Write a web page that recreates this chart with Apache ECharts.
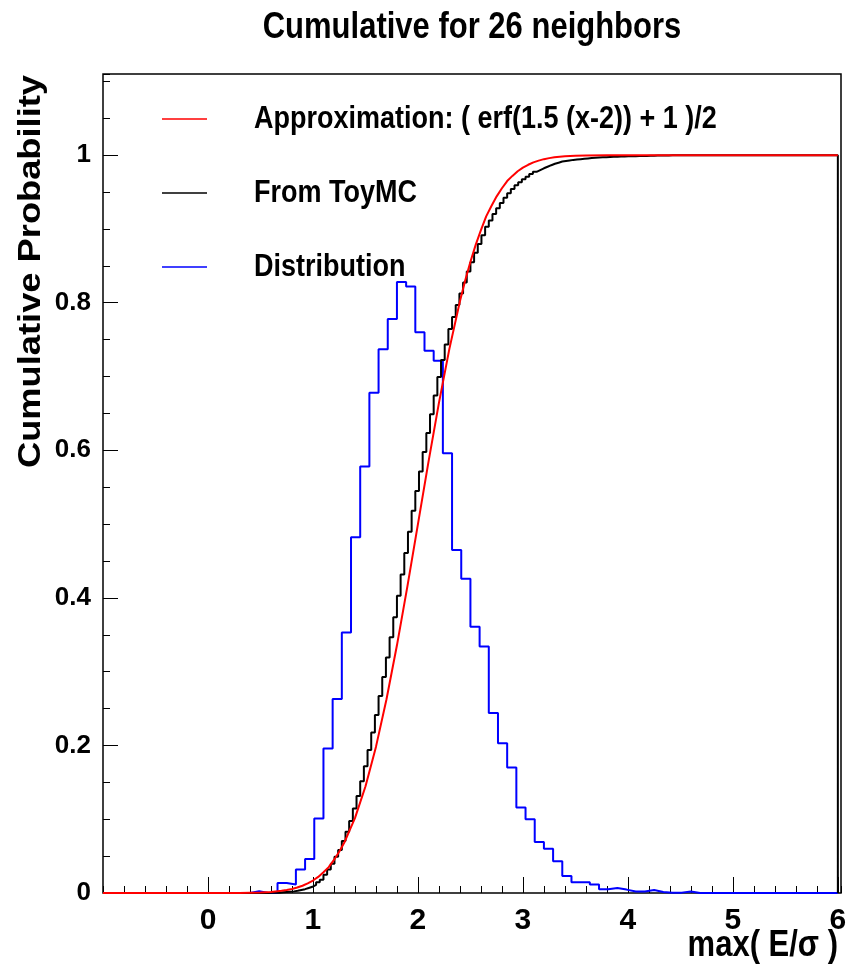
<!DOCTYPE html>
<html><head><meta charset="utf-8">
<script src="https://cdn.jsdelivr.net/npm/echarts@6/dist/echarts.min.js"></script>
<style>html,body{margin:0;padding:0;background:#fff}#c{width:852px;height:970px}</style>
</head><body><div id="c"></div>
<script>
// ---------- data ----------
const titleText = 'Cumulative for 26 neighbors';
const xTitle = 'max( E/σ )';
const yTitle = 'Cumulative Probability';
const legendNames = ['Approximation: ( erf(1.5 (x-2)) + 1 )/2', 'From ToyMC', 'Distribution'];

// Distribution histogram: 80 bins over [-1, 6]
const distLow = -1, distWidth = 0.0875;
const distribution = [
  0,0,0,0,0,0,0,0,0,0,0,0,0,0,0,0,
  0.0023,0,0,0.0136,0.0114,0.032,0.046,0.101,0.196,0.263,0.353,0.482,0.578,0.678,0.737,0.778,
  0.828,0.822,0.760,0.735,0.7215,0.596,0.465,0.426,0.361,0.334,0.244,0.203,0.170,0.116,0.100,0.069,
  0.060,0.043,0.023,0.0145,0.0145,0.0114,0.0052,0.0068,0.0046,0.002,0.002,0.004,0.0014,0.0005,0.0005,0.002,
  0,0,0,0,0,0,0,0,0,0,0,0,0,0,0,0
];

// From ToyMC cumulative histogram: 200 bins over [-1, 6]
const toyLow = -1, toyWidth = 0.035;
const toyCumulative = [
  0,0,0,0,0,0,0,0,0,0,0,0,0,0,0,0,0,0,0,0,0,0,0,0,0,0,0,0,0,0,0,0,0,0,0,0,0,0,0,0,0,0,0,0,0,
  0.0002,0.0002,0.0004,0.0009,0.0014,0.0018,0.0022,0.003,0.0041,0.0052,
  0.0068,0.0084,0.011,0.0145,0.018,0.0249,0.0317,0.0398,0.049,0.0582,
  0.0706,0.0829,0.0975,0.1144,0.1313,0.1515,0.1718,0.1938,0.2175,0.2412,
  0.267,0.2928,0.3193,0.3465,0.3738,0.4028,0.4318,0.4607,0.4895,0.5182,
  0.5448,0.5714,0.5976,0.6233,0.649,0.6743,0.6995,0.7225,0.7434,0.7643,
  0.7806,0.7969,0.8125,0.8274,0.8423,0.8549,0.8676,0.8797,0.8914,0.9031,
  0.9116,0.9202,0.9281,0.9352,0.9423,0.9483,0.9542,0.9592,0.9633,0.9674,
  0.9709,0.9744,0.9774,0.9798,0.9822,0.9843,0.9864,0.9883,0.9898,0.9913,
  0.9921,0.9929,0.9936,0.9941,0.9946,0.9951,0.9956,0.9961,0.9965,0.9969,
  0.9971,0.9973,0.9975,0.9977,0.9979,0.9981,0.9983,0.9984,0.9985,0.9986,
  0.9987,0.9988,0.999,0.9992,0.9993,0.9994,0.9995,0.9996,0.9997,0.9998,0.9999,
  1,1,1,1,1,1,1,1,1,1,1,1,1,1,1,1,1,1,1,1,1,1,
  1,1,1,1,1,1,1,1,1,1,1,1,1,1,1,1,1,1,1,1,1,1
];

// Approximation curve samples
const approxX = [-1,0,0.3,0.5,0.6,0.7,0.75,0.8,0.85,0.9,0.95,1.0,1.05,1.1,1.15,1.2,1.25,1.3,1.35,1.4,1.5,1.6,1.7,1.8,1.9,2.0,2.1,2.2,2.3,2.4,2.45,2.5,2.55,2.6,2.65,2.7,2.75,2.8,2.85,2.9,2.95,3.0,3.05,3.1,3.15,3.2,3.25,3.3,3.35,3.4,3.5,3.6,3.8,4.0,6.0];
const approxY = [0,0,0.0001,0.0007,0.0015,0.0029,0.004,0.0054,0.0074,0.0098,0.013,0.0169,0.0218,0.0281,0.0351,0.0448,0.0558,0.0688,0.0851,0.1015,0.1444,0.198,0.2622,0.3357,0.416,0.5,0.584,0.6643,0.7378,0.802,0.8302,0.8556,0.8784,0.8985,0.9171,0.9312,0.9442,0.9552,0.9649,0.9719,0.9782,0.9831,0.987,0.9902,0.9926,0.9946,0.996,0.9971,0.9979,0.9985,0.9993,0.9997,0.9999,1.0,1.0];

// axes
const xMin = -1, xMax = 6.03, xMajor = 1, xMinor = 0.2;
const yMin = 0, yMax = 1.11, yMajor = 0.2, yMinor = 0.05;

// ---------- build ----------
function histPoints(low, width, values, closeDown) {
  const pts = values.map((v, i) => [low + i * width, v]);
  const end = low + values.length * width;
  pts.push([end, values[values.length - 1]]);
  if (closeDown) pts.push([end, 0]);
  return pts;
}
const FONT = "'Liberation Sans', Arial, Helvetica, sans-serif";
const SY = 1.17;

const chart = echarts.init(document.getElementById('c'), null, {renderer: 'canvas'});
const grid = {left: 103, right: 11, top: 74, bottom: 77, show: true, borderColor: '#000', borderWidth: 1.5, backgroundColor: 'transparent'};

function xAx(interval, len, labels) {
  return {type: 'value', min: xMin, max: xMax, interval: interval, position: 'bottom',
    axisLine: {show: false, onZero: false}, splitLine: {show: false},
    axisTick: {show: true, inside: true, length: len, lineStyle: {color: '#000', width: 1}},
    axisLabel: {show: labels, showMinLabel: false, showMaxLabel: false, margin: 13, color: '#000', fontFamily: FONT, fontWeight: 'bold', fontSize: 30}};
}
function yAx(interval, len, labels) {
  return {type: 'value', min: yMin, max: yMax, interval: interval, position: 'left',
    axisLine: {show: false, onZero: false}, splitLine: {show: false},
    axisTick: {show: true, inside: true, length: len, lineStyle: {color: '#000', width: 1}},
    axisLabel: {show: labels, showMaxLabel: false, margin: 12, color: '#000', fontFamily: FONT, fontWeight: 'bold', fontSize: 26}};
}

const legendColors = ['#ff0000', '#000000', '#0000ff'];
const legendY = [119, 193, 267];
const graphics = [];
legendNames.forEach((n, i) => {
  graphics.push({type: 'line', shape: {x1: 162, y1: legendY[i], x2: 207, y2: legendY[i]}, style: {stroke: legendColors[i], lineWidth: 1.5}});
  graphics.push({type: 'text', x: 254, y: legendY[i], scaleY: SY, style: {text: n, fill: '#000', font: 'bold 27px ' + FONT, textAlign: 'left', textVerticalAlign: 'middle'}});
});
graphics.push({type: 'text', x: 472, y: 28, scaleY: SY, style: {text: titleText, fill: '#000', font: 'bold 31px ' + FONT, textAlign: 'center', textVerticalAlign: 'middle'}});
graphics.push({type: 'text', x: 838, y: 946, scaleY: SY, style: {text: xTitle, fill: '#000', font: 'bold 31px ' + FONT, textAlign: 'right', textVerticalAlign: 'middle'}});
graphics.push({type: 'text', x: 31, y: 75, rotation: Math.PI / 2, scaleX: SY, style: {text: yTitle, fill: '#000', font: 'bold 31px ' + FONT, textAlign: 'right', textVerticalAlign: 'middle'}});

chart.setOption({
  animation: false,
  backgroundColor: '#fff',
  grid: grid,
  xAxis: [xAx(xMajor, 16, true), xAx(xMinor, 7, false)],
  yAxis: [yAx(yMajor, 15, true), yAx(yMinor, 7, false)],
  series: [
    {name: legendNames[2], type: 'line', step: 'end', showSymbol: false, symbol: 'none', data: histPoints(distLow, distWidth, distribution, true), lineStyle: {color: '#0000ff', width: 2}, z: 3},
    {name: legendNames[1], type: 'line', step: 'end', showSymbol: false, symbol: 'none', data: histPoints(toyLow, toyWidth, toyCumulative, true), lineStyle: {color: '#000', width: 2}, z: 4},
    {name: legendNames[0], type: 'line', smooth: false, showSymbol: false, symbol: 'none', data: approxX.map((x, i) => [x, approxY[i]]), lineStyle: {color: '#ff0000', width: 2}, z: 5}
  ],
  graphic: graphics
});
</script></body></html>
